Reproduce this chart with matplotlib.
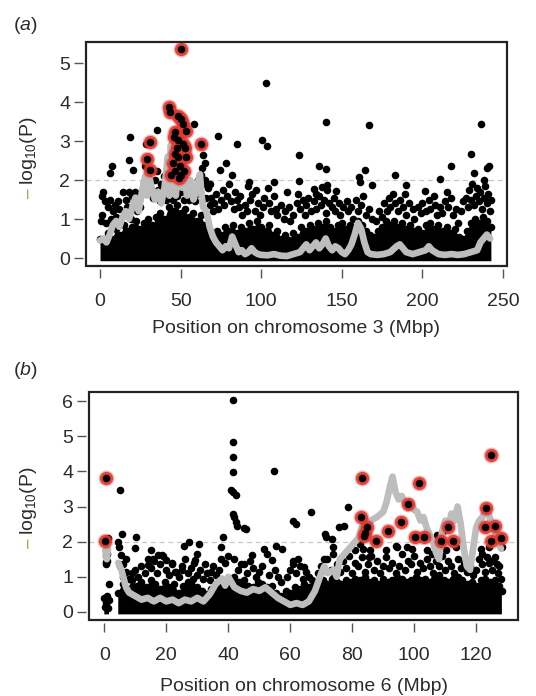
import numpy as np
import matplotlib
matplotlib.use("Agg")
import matplotlib.pyplot as plt
from matplotlib.patches import Rectangle

plt.rcParams['font.family'] = ['Liberation Sans', 'DejaVu Sans']
plt.rcParams['mathtext.fontset'] = 'custom'
plt.rcParams['mathtext.rm'] = 'Liberation Sans'
plt.rcParams['mathtext.it'] = 'Liberation Sans:italic'

# ---------------- panel (a): chromosome 3 ----------------
# (position, top of the dense band of SNPs near zero)
a_core = [
    (0, 0.5), (2.5, 0.35), (5, 0.65), (7.5, 0.5), (10, 0.75), (12.5, 0.6), (15, 0.85),
    (17.5, 0.7), (20, 0.8), (22.5, 0.95), (25, 0.75), (27.5, 0.9), (30, 1.0), (32.5, 0.85),
    (35, 1.05), (37.5, 1.15), (40, 1.0), (42.5, 1.3), (45, 1.2), (47.5, 1.35), (50, 1.15),
    (52.5, 1.25), (55, 1.05), (57.5, 1.15), (60, 0.95), (62.5, 1.1), (65, 0.85), (67.5, 0.75),
    (70, 0.55), (72.5, 0.7), (75, 0.6), (77.5, 0.8), (80, 0.7), (82.5, 0.85), (85, 0.65),
    (87.5, 0.8), (90, 0.7), (92.5, 0.9), (95, 0.75), (97.5, 0.95), (100, 0.8), (102.5, 0.7),
    (105, 0.85), (107.5, 0.6), (110, 0.7), (112.5, 0.5), (115, 0.6), (117.5, 0.45),
    (120, 0.65), (122.5, 0.55), (125, 0.8), (127.5, 0.7), (130, 0.85), (132.5, 0.75),
    (135, 0.9), (137.5, 0.8), (140, 0.95), (142.5, 0.8), (145, 0.7), (147.5, 0.85),
    (150, 0.9), (152.5, 0.75), (155, 0.85), (157.5, 0.7), (160, 0.95), (162.5, 0.85),
    (165, 0.7), (167.5, 0.6), (170, 0.55), (172.5, 0.7), (175, 0.8), (177.5, 0.95),
    (180, 0.85), (182.5, 0.95), (185, 0.8), (187.5, 0.9), (190, 0.75), (192.5, 0.85),
    (195, 0.7), (197.5, 0.75), (200, 0.65), (202.5, 0.85), (205, 0.9), (207.5, 0.75),
    (210, 0.85), (212.5, 0.7), (215, 0.8), (217.5, 0.65), (220, 0.75), (222.5, 0.55),
    (225, 0.5), (227.5, 0.7), (230, 0.9), (232.5, 1.0), (235, 0.9), (237.5, 1.05),
    (240, 0.95), (242.5, 0.8),
]

# individual SNPs above the band
a_snp = [
    (103.2, 4.49), (140.4, 3.49), (166.7, 3.42), (236.6, 3.44), (100.7, 3.03), (103.4, 2.86),
    (73.2, 3.14), (85.0, 2.92), (58.3, 3.44), (35.4, 3.29), (18.8, 3.10), (123.4, 2.64),
    (230.2, 2.68), (218.0, 2.35), (164.6, 2.26), (140.0, 2.27), (135.6, 2.35), (183.2, 2.12),
    (232.0, 2.18), (240.3, 2.30), (241.5, 2.37), (78.0, 2.44), (74.4, 2.25), (81.9, 2.12),
    (7.2, 2.35), (6.2, 2.18), (18.2, 2.51), (20.2, 2.26), (28.5, 2.92), (35.6, 2.22),
    (63.9, 2.65), (65.1, 2.43), (63.3, 2.30), (62.4, 2.14), (68.0, 1.90), (92.2, 1.96),
    (92.0, 1.85), (107.9, 1.96), (123.4, 1.98), (160.9, 2.07), (161.5, 1.94), (168.7, 1.88),
    (201.4, 1.72), (211.1, 2.02), (238.2, 2.00), (116.0, 1.69), (146.2, 1.73), (189.6, 1.86),
    (132.8, 1.77), (133.8, 1.65), (137.7, 1.82), (140.8, 1.86),
    (1, 1.6), (2, 1.7), (1.5, 1.1), (3, 1.45), (5, 1.3), (6, 1.5), (8, 1.2), (9, 1.35),
    (10, 1.05), (11, 1.45), (12, 1.25), (14, 1.7), (15, 1.1), (16, 1.5), (17, 1.3), (18, 1.7),
    (19, 1.0), (20, 1.6), (21, 1.45), (22, 1.7), (23, 1.2), (0.5, 0.95), (4, 0.9), (7, 1.0),
    (24, 1.5), (25, 1.3), (26, 1.65), (27, 1.95), (28, 2.35), (29, 2.0), (31, 1.8), (33, 1.55),
    (34, 2.0), (36, 1.75), (37, 1.45), (38, 1.9), (39, 1.6), (40, 2.1), (41, 1.5),
    (42, 1.7), (43, 1.9), (44, 2.0), (45, 1.5), (47, 1.8), (48, 1.6), (49, 1.95), (50, 1.7),
    (51, 1.85), (52, 1.5), (53, 1.95), (54, 1.7), (55, 1.5), (56, 1.9), (57, 1.6), (58, 1.8),
    (59, 1.45), (60, 1.65), (61, 2.0), (62, 1.7), (64, 1.9), (65, 2.0), (66, 1.55), (67, 1.8),
    (68, 1.35), (69, 1.55), (70, 1.2),
    (71, 1.4), (72, 1.65), (73, 1.25), (75, 1.5), (76, 1.75), (77, 1.35), (79, 1.6), (80, 1.9),
    (81, 1.45), (83, 1.25), (84, 1.7), (85, 1.5), (86, 1.3), (87, 1.6), (88, 1.1), (90, 1.35),
    (91, 1.2), (93, 1.5), (94, 1.65), (96, 1.2), (97, 1.75), (98, 1.4), (99, 1.1),
    (101, 1.3), (102, 1.55), (104, 1.8), (105, 1.4), (106, 1.2), (108, 1.6), (109, 1.25),
    (110, 1.1), (112, 1.35), (114, 1.0), (115, 1.2), (117, 1.3), (118, 0.95), (120, 1.1),
    (122, 1.4), (123, 1.65), (124, 1.25), (126, 1.5), (127, 1.1), (128, 1.35), (129, 1.55),
    (131, 1.2), (133, 1.45), (134, 1.25), (136, 1.6), (137, 1.35), (139, 1.5), (140, 1.15),
    (141, 1.75), (142, 1.4), (144, 1.3), (145, 1.55), (146, 1.2), (148, 1.4), (149, 1.1),
    (151, 1.3), (153, 1.45), (154, 1.2), (156, 1.3), (157, 1.0), (159, 1.5), (160, 1.2),
    (162, 1.35), (163, 1.6), (165, 1.1), (167, 1.25), (169, 1.0),
    (171, 0.95), (173, 1.2), (175, 1.05), (176, 1.4), (178, 1.2), (179, 1.55), (180, 1.3),
    (182, 1.65), (183, 1.4), (185, 1.2), (186, 1.5), (188, 1.3), (189, 1.65), (190, 1.1),
    (192, 1.4), (194, 1.25), (195, 1.0), (197, 1.3), (199, 1.15), (200, 1.4), (202, 1.2),
    (204, 1.5), (205, 1.25), (207, 1.6), (208, 1.35), (209, 1.1),
    (211, 1.3), (212, 1.15), (214, 1.45), (215, 1.7), (216, 1.3), (218, 1.55), (219, 1.1),
    (221, 1.25), (222, 0.9), (224, 1.2), (225, 1.45), (227, 1.55), (228, 1.3), (229, 1.75),
    (230, 1.5), (231, 1.9), (232, 1.35), (233, 1.6), (234, 1.8), (235, 1.45), (236, 1.7),
    (237, 1.25), (238, 1.55), (239, 1.85), (240, 1.4), (241, 1.65), (242, 1.2), (242.5, 1.5),
]

# significant SNPs (circled in red)
a_hit = [
    (50.0, 5.36), (43.0, 3.88), (43.6, 3.75), (48.4, 3.63), (50.5, 3.57), (51.5, 3.44),
    (53.4, 3.27), (46.3, 3.22), (45.7, 3.10), (48.4, 3.03), (51.5, 2.93), (62.4, 2.93),
    (31.2, 2.97), (29.2, 2.54), (31.2, 2.26), (46.3, 2.66), (48.4, 2.60), (53.2, 2.60),
    (45.3, 2.43), (49.4, 2.35), (46.3, 2.22), (50.5, 2.13), (44.3, 2.13), (48.9, 2.05),
    (52.1, 2.22), (48.0, 2.82), (52.5, 2.82),
]

# sliding window curve (grey)
a_win = [
    (0, 0.45), (2, 0.5), (4, 0.4), (6, 0.6), (8, 0.85), (10, 0.95), (12, 0.8), (14, 1.05),
    (16, 1.2), (18, 1.0), (20, 1.3), (22, 1.55), (24, 1.2), (26, 1.7), (28, 2.1), (29, 1.6),
    (30, 2.2), (32, 1.8), (34, 1.5), (36, 1.7), (38, 1.4), (40, 1.8), (42, 2.6), (43, 1.6),
    (44, 2.9), (45, 1.7), (46, 2.5), (47, 1.6), (48, 2.0), (49, 2.8), (50, 2.7), (51, 1.8),
    (52, 2.2), (54, 1.6), (56, 2.0), (58, 1.5), (60, 1.8), (62, 2.15), (63, 1.6), (64, 1.3),
    (66, 1.2), (68, 0.8), (70, 0.55), (72, 0.4), (74, 0.3), (76, 0.2), (78, 0.3), (80, 0.25),
    (82, 0.55), (84, 0.35), (86, 0.15), (88, 0.2), (90, 0.1), (92, 0.15), (94, 0.25),
    (96, 0.15), (98, 0.1), (100, 0.08), (104, 0.07), (108, 0.1), (112, 0.06), (116, 0.05),
    (120, 0.1), (124, 0.15), (126, 0.25), (128, 0.35), (130, 0.2), (132, 0.3), (134, 0.4),
    (136, 0.25), (138, 0.35), (140, 0.5), (142, 0.3), (144, 0.2), (146, 0.3), (148, 0.25),
    (150, 0.15), (152, 0.1), (154, 0.2), (156, 0.35), (158, 0.6), (160, 0.9), (162, 0.75),
    (164, 0.4), (166, 0.15), (168, 0.1), (172, 0.08), (176, 0.1), (180, 0.15), (184, 0.3),
    (186, 0.35), (188, 0.25), (190, 0.15), (194, 0.1), (198, 0.15), (202, 0.2), (204, 0.3),
    (206, 0.2), (210, 0.1), (214, 0.08), (218, 0.1), (222, 0.08), (226, 0.1), (230, 0.15),
    (234, 0.2), (236, 0.4), (238, 0.5), (240, 0.6), (242, 0.5),
]

# ---------------- panel (b): chromosome 6 ----------------
b_core = [
    (0, 0.4), (0.8, 0.45), (1.5, 0.35), (2, np.nan),
    (4.5, 0.55), (6, 0.8), (7.5, 0.65), (9, 0.9), (10.5, 0.75), (12, 0.85), (13.5, 0.7),
    (15, 0.9), (16.5, 0.8), (18, 0.65), (19.5, 0.85), (21, 0.7), (22.5, 0.8), (24, 0.55),
    (25.5, 0.75), (27, 0.85), (28.5, 0.95), (30, 0.7), (31.5, 0.6), (33, 0.5), (34.5, 0.65),
    (36, 0.75), (37.5, 0.9), (39, 0.8), (40.5, 0.95), (42, 1.0), (43.5, 0.85), (45, 0.9),
    (46.5, 0.75), (48, 0.7), (49.5, 0.85), (51, 0.8), (52.5, 0.7), (54, 0.75), (55.5, 0.55),
    (57, 0.45), (58.5, 0.6), (60, 0.55), (61.5, 0.7), (63, 0.65), (64.5, 0.8), (66, 0.7),
    (67.5, 0.75), (69, 0.85), (70.5, 0.9), (72, 0.8), (73.5, 0.95), (75, 0.85), (76.5, 0.8),
    (78, 0.9), (79.5, 0.85), (81, 0.95), (82.5, 0.9), (84, 1.0), (85.5, 0.85), (87, 0.9),
    (88.5, 0.8), (90, 0.95), (91.5, 0.85), (93, 0.9), (94.5, 1.0), (96, 0.95), (97.5, 0.85),
    (99, 0.9), (100.5, 1.0), (102, 0.9), (103.5, 0.95), (105, 0.85), (106.5, 0.95),
    (108, 1.05), (109.5, 0.9), (111, 0.85), (112.5, 0.95), (114, 1.0), (115.5, 0.9),
    (117, 0.8), (118.5, 0.85), (120, 0.75), (121.5, 0.9), (123, 0.95), (124.5, 0.85),
    (126, 0.9), (127.5, 0.75), (128.3, 0.6),
]

b_snp = [
    (41.4, 6.02), (41.6, 4.85), (41.4, 4.41), (41.6, 3.98), (40.8, 3.48), (41.6, 3.41),
    (42.4, 3.32), (41.4, 2.78), (41.9, 2.70), (42.7, 2.44), (45.0, 2.40), (45.8, 2.37),
    (42.4, 2.56), (54.8, 4.01), (5.2, 3.46), (1.2, 2.11), (5.8, 2.23), (10.1, 2.13),
    (9.9, 1.82), (4.5, 1.99), (4.7, 1.85), (38.2, 2.13), (37.5, 1.85), (37.7, 1.52),
    (27.2, 1.99), (25.8, 1.87), (30.6, 1.94), (60.8, 2.58), (61.9, 2.51), (66.6, 2.84),
    (55.3, 1.87), (57.5, 1.80), (51.4, 1.80), (52.4, 1.66), (54.0, 1.47), (47.7, 1.61),
    (45.0, 1.37), (29.8, 1.66), (29.3, 1.47), (18.7, 1.61), (19.8, 1.47), (17.2, 1.61),
    (15.1, 1.75), (15.6, 1.52), (14.0, 1.33), (0.8, 1.66), (0.5, 1.42), (1.4, 0.80),
    (5.4, 1.61), (5.9, 1.37), (7.0, 1.52), (25.0, 1.18), (21.9, 1.37), (22.9, 1.14),
    (32.4, 1.37), (34.5, 1.14), (60.8, 1.37), (62.4, 1.52), (64.5, 1.28),
    (78.5, 2.99), (75.6, 2.41), (77.2, 2.45), (71.1, 2.22), (71.4, 2.12), (73.5, 2.08),
    (73.7, 1.84), (73.7, 1.65), (70.9, 1.51), (80.8, 1.75), (82.4, 1.93), (83.5, 1.79),
    (85.3, 1.56), (85.6, 1.75), (90.8, 1.75), (94.0, 1.89), (94.5, 1.84), (97.7, 1.84),
    (99.3, 1.79), (107.2, 2.20), (109.3, 2.31), (104.0, 1.75), (105.6, 1.65), (110.3, 1.75),
    (113.5, 1.84), (121.4, 1.79), (121.9, 1.65), (124.0, 1.84), (123.4, 1.56), (125.0, 1.46),
    (126.6, 1.37), (128.2, 1.84),
    (0.3, 0.15), (0.5, 0.25), (0.8, 0.3), (1.2, 0.1), (0.6, 1.35), (0.9, 1.45), (0.4, 1.6),
    (5, 1.3), (6, 1.0), (7, 1.15), (8, 0.95), (9, 1.1), (10, 1.2), (11, 1.0), (12, 1.3),
    (13, 1.1), (14, 1.5), (15, 1.25), (16, 1.45), (17, 1.1), (18, 1.35), (19, 1.6), (20, 1.2),
    (21, 1.05), (22, 1.4), (23, 1.15), (24, 1.0), (25, 1.3), (26, 1.5), (27, 1.1), (28, 1.25),
    (29, 1.4), (30, 1.05), (31, 1.2), (32, 0.95), (33, 1.1), (34, 0.9), (35, 1.3), (36, 1.05),
    (37, 1.2), (39, 1.4), (40, 1.6), (42, 1.5), (43, 1.2), (44, 1.35), (46, 1.1), (47, 1.45),
    (48, 1.25), (49, 1.0), (50, 1.15), (51, 1.3), (53, 1.05), (55, 1.2), (56, 1.0), (57, 0.85),
    (59, 1.0), (60, 1.2), (61, 1.45), (62, 1.1), (63, 1.3), (64, 0.95), (65, 1.15), (66, 1.0),
    (67, 0.9), (69, 1.1), (70, 1.3), (72, 1.5), (73, 1.2), (74, 1.0), (75, 1.35), (76, 1.15),
    (77, 1.45), (78, 1.25), (79, 1.6), (80, 1.1), (81, 1.4), (82, 1.3), (83, 1.55), (84, 1.15),
    (85, 1.35), (86, 1.6), (87, 1.2), (88, 1.45), (89, 1.1), (90, 1.3), (91, 1.55), (92, 1.25),
    (93, 1.4), (94, 1.1), (95, 1.3), (96, 1.65), (97, 1.2), (98, 1.45), (99, 1.35), (100, 1.6),
    (101, 1.15), (102, 1.4), (103, 1.25), (104, 1.5), (105, 1.3), (106, 1.1), (107, 1.45),
    (108, 1.3), (109, 1.6), (110, 1.2), (111, 1.45), (112, 1.3), (113, 1.1), (114, 1.5),
    (115, 1.25), (116, 1.4), (117, 1.15), (118, 1.3), (119, 1.05), (120, 1.2), (121, 1.5),
    (122, 1.35), (123, 1.15), (124, 1.4), (125, 1.2), (126, 1.55), (127, 1.1), (127.5, 1.3),
    (128, 0.95),
]

b_hit = [
    (0.5, 3.81), (0.3, 2.01), (83.3, 3.82), (82.9, 2.69), (84.8, 2.41), (83.8, 2.17),
    (84.2, 2.26), (87.7, 2.03), (91.4, 2.31), (95.9, 2.57), (97.9, 3.07), (101.4, 3.66),
    (100.3, 2.14), (103.2, 2.12), (108.7, 2.01), (110.8, 2.42), (112.6, 2.03), (124.8, 4.46),
    (123.3, 2.97), (122.9, 2.41), (126.1, 2.45), (124.8, 2.03), (128.0, 2.09),
]

b_win = [
    (0.3, 1.75), (0.8, 1.5), (1.2, 1.8), (2.5, np.nan), (4.5, 1.4), (5.5, 1.2), (7, 0.7),
    (8, 0.55), (10, 0.45), (12, 0.35), (14, 0.4), (16, 0.3), (18, 0.4), (20, 0.3), (22, 0.35),
    (24, 0.25), (26, 0.35), (28, 0.3), (30, 0.4), (32, 0.3), (34, 0.5), (36, 0.8), (38, 0.95),
    (39, 0.75), (40, 1.0), (41, 0.85), (42, 0.7), (44, 0.6), (46, 0.55), (48, 0.65), (50, 0.6),
    (52, 0.7), (54, 0.55), (56, 0.4), (58, 0.3), (60, 0.2), (62, 0.25), (64, 0.2), (66, 0.3),
    (68, 0.6), (70, 1.1), (71, 1.3), (72, 1.1), (74, 1.2), (75, 1.0), (76, 1.5), (78, 1.7),
    (80, 1.9), (82, 2.1), (83, 2.4), (84, 2.55), (86, 2.6), (88, 2.7), (90, 2.85), (91, 3.1),
    (92, 3.5), (93, 3.85), (94, 3.4), (95, 3.2), (96, 3.3), (97, 3.1), (98, 2.95), (99, 3.1),
    (100, 2.9), (101, 2.85), (102, 2.6), (103, 2.7), (104, 2.4), (105, 2.2), (106, 2.0),
    (107, 1.7), (108, 1.5), (109, 2.3), (110, 2.6), (111, 2.4), (112, 2.8), (113, 2.6),
    (114, 3.0), (115, 2.5), (116, 1.8), (117, 1.3), (118, 1.2), (119, 1.8), (120, 2.4),
    (121, 2.6), (122, 2.7), (123, 2.9), (124, 2.8), (125, 2.5), (126, 2.3), (127, 2.0),
    (128, 1.8),
]

DARK = '#2b2b2b'
GREY = '#bdbdbd'
RED = '#e2362e'
TAN = '#c49a5c'
DOT = 30


def draw_panel(ax, core, snps, win, hits):
    cx, ctop = zip(*core)
    ax.fill_between(cx, -0.07, ctop, color='black', lw=0, zorder=1)
    ax.scatter(cx, ctop, s=DOT, color='black', lw=0, zorder=2)
    sx, sy = zip(*snps)
    ax.scatter(sx, sy, s=DOT, color='black', lw=0, zorder=2)
    ax.axhline(2, color='#c8c8c8', lw=0.9, dashes=(4, 3), zorder=1.5)
    wx, wy = zip(*win)
    ax.plot(wx, wy, color=GREY, lw=4.8, solid_joinstyle='round',
            solid_capstyle='round', zorder=3)
    hx, hy = zip(*hits)
    # soft red ring around the significant SNPs
    ax.scatter(hx, hy, s=130, color=RED, alpha=0.35, lw=0, zorder=4)
    ax.scatter(hx, hy, s=90, color=RED, alpha=0.9, lw=0, zorder=4)
    ax.scatter(hx, hy, s=DOT, color='black', lw=0, zorder=5)

    for sp in ax.spines.values():
        sp.set_color('none')
    ax.spines['left'].set_position(('outward', 2))
    ax.spines['bottom'].set_position(('outward', 2))
    ax.add_patch(Rectangle((0, 0), 1, 1, transform=ax.transAxes, fill=False,
                           lw=1.6, edgecolor='#222222', clip_on=False, zorder=6))
    ax.tick_params(direction='out', length=6.5, width=1.0, color='#555555',
                   labelcolor=DARK, labelsize=14)
    ax.tick_params(axis='x', pad=11)
    ax.tick_params(axis='y', pad=3)


fig = plt.figure(figsize=(5.36, 6.96), dpi=100)

ax1 = fig.add_axes([86 / 536, 1 - 266 / 696, 421 / 536, 224 / 696])
draw_panel(ax1, a_core, a_snp, a_win, a_hit)
ax1.set_xlim(-8.7, 252.5)
ax1.set_ylim(-0.205, 5.54)
ax1.set_xticks([0, 50, 100, 150, 200, 250])
ax1.set_yticks([0, 1, 2, 3, 4, 5])
ax1.set_xlabel('Position on chromosome 3 (Mbp)', fontsize=14, color=DARK, labelpad=7)

ax2 = fig.add_axes([89 / 536, 1 - 620 / 696, 429 / 536, 228 / 696])
draw_panel(ax2, b_core, b_snp, b_win, b_hit)
ax2.set_xlim(-4.94, 133.5)
ax2.set_ylim(-0.23, 6.26)
ax2.set_xticks([0, 20, 40, 60, 80, 100, 120])
ax2.set_yticks([0, 1, 2, 3, 4, 5, 6])
ax2.set_xlabel('Position on chromosome 6 (Mbp)', fontsize=14, color=DARK, labelpad=10)

# y labels: tan minus sign followed by log10(P)
for ybreak in (1 - 185 / 696, 1 - 535 / 696):
    fig.text(29 / 536, ybreak, r'$\mathregular{log_{10}(P)}$', rotation=90, fontsize=14,
             color=DARK, ha='center', va='bottom')
    fig.text(29 / 536, ybreak - 0.002, '\u2212', rotation=90, fontsize=14,
             color=TAN, ha='center', va='top')

fig.text(13 / 536, 1 - 25 / 696, r'($\mathit{a}$)', fontsize=14, color=DARK, va='center')
fig.text(13 / 536, 1 - 370 / 696, r'($\mathit{b}$)', fontsize=14, color=DARK, va='center')

fig.savefig('out.png', dpi=100)
